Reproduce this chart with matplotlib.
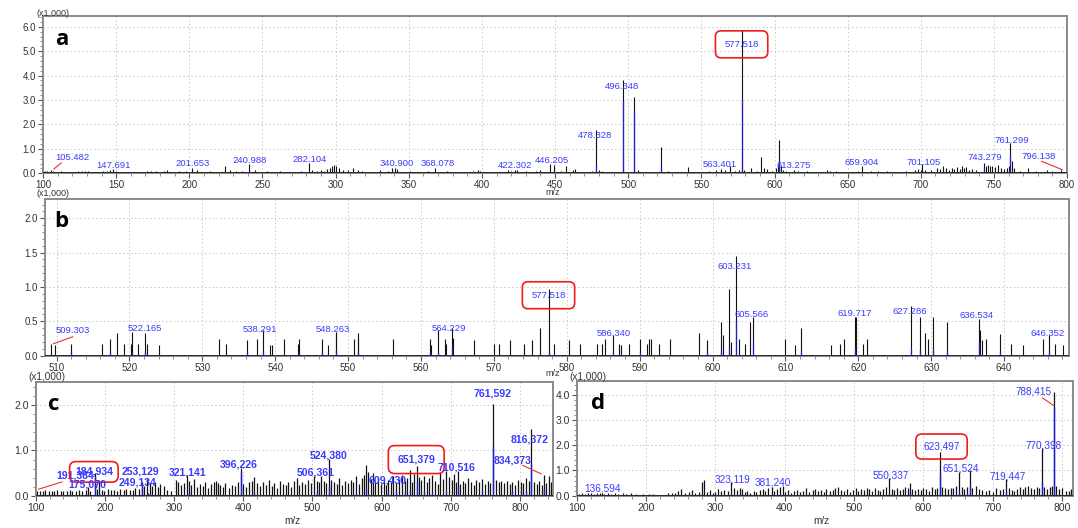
import matplotlib
matplotlib.use("Agg")
import matplotlib.pyplot as plt
from matplotlib.ticker import MultipleLocator, FormatStrFormatter

plt.rcParams['font.family'] = ['Liberation Sans', 'DejaVu Sans']

# ---------------- panel a : full scan (m/z, intensity x1000)
a_mz = [101.5, 103.0, 105.5, 107.0, 110.0, 112.0, 118.0, 124.0, 126.5, 129.0,
        131.0, 141.0, 143.5, 145.5, 147.7, 150.0, 171.0, 174.0, 177.0, 183.0,
        185.0, 193.0, 198.0, 201.7, 205.0, 214.0, 224.5, 228.0, 232.0, 236.0,
        241.0, 245.0, 253.0, 262.0, 270.0, 276.0, 282.1, 284.0, 287.0, 290.0,
        292.0, 294.0, 296.0, 297.5, 299.0, 300.5, 302.0, 305.0, 308.5, 312.0,
        315.0, 318.0, 322.0, 330.0, 336.0, 338.5, 340.9, 342.0, 351.0, 358.0,
        363.0, 368.1, 376.0, 385.0, 394.0, 397.0, 399.0, 418.0, 420.0, 422.3,
        424.0, 430.0, 437.0, 440.0, 446.2, 449.0, 454.0, 457.5, 462.0, 463.5,
        475.0, 478.3, 480.0, 482.0, 496.3, 504.2, 507.0, 522.5, 527.0, 541.0,
        555.0, 560.0, 563.4, 566.0, 569.3, 573.0, 576.0, 577.5, 579.0, 584.0,
        588.0, 591.0, 593.0, 595.0, 598.0, 601.0, 602.5, 603.4, 604.5, 606.0,
        608.0, 613.3, 616.0, 622.0, 636.0, 638.0, 642.0, 645.0, 657.0, 659.9,
        666.0, 671.0, 677.0, 682.0, 690.0, 696.0, 698.0, 700.0, 701.1, 703.0,
        707.0, 711.0, 713.0, 715.0, 717.0, 719.0, 721.0, 723.0, 725.0, 726.5,
        728.0, 729.5, 731.0, 733.0, 735.0, 738.0, 743.3, 744.5, 746.0, 747.5,
        749.0, 751.0, 753.0, 755.0, 757.0, 759.0, 760.5, 761.3, 762.3, 763.5,
        768.0, 773.0, 779.0, 786.0, 790.0, 796.1]
a_int = [0.08, 0.10, 0.12, 0.10, 0.06, 0.08, 0.06, 0.10, 0.10, 0.08,
         0.10, 0.10, 0.08, 0.12, 0.16, 0.10, 0.10, 0.08, 0.10, 0.08,
         0.12, 0.08, 0.10, 0.22, 0.12, 0.10, 0.28, 0.14, 0.08, 0.10,
         0.36, 0.12, 0.10, 0.08, 0.06, 0.10, 0.44, 0.12, 0.10, 0.14,
         0.10, 0.16, 0.22, 0.30, 0.32, 0.30, 0.20, 0.12, 0.14, 0.20,
         0.14, 0.08, 0.06, 0.14, 0.10, 0.20, 0.22, 0.16, 0.08, 0.06,
         0.08, 0.20, 0.08, 0.06, 0.10, 0.12, 0.08, 0.14, 0.10, 0.14,
         0.12, 0.10, 0.10, 0.12, 0.36, 0.34, 0.08, 0.28, 0.12, 0.16,
         0.10, 1.76, 0.12, 0.08, 3.80, 3.13, 0.12, 1.09, 0.10, 0.26,
         0.10, 0.12, 0.18, 0.12, 0.30, 0.10, 0.14, 5.87, 0.12, 0.22,
         0.08, 0.68, 0.20, 0.16, 0.10, 0.20, 0.35, 1.37, 0.30, 0.12,
         0.10, 0.14, 0.08, 0.08, 0.12, 0.10, 0.08, 0.06, 0.10, 0.28,
         0.08, 0.10, 0.08, 0.06, 0.10, 0.12, 0.16, 0.14, 0.36, 0.12,
         0.14, 0.22, 0.16, 0.30, 0.20, 0.14, 0.22, 0.16, 0.24, 0.18,
         0.28, 0.20, 0.24, 0.14, 0.18, 0.12, 0.44, 0.30, 0.34, 0.28,
         0.30, 0.24, 0.34, 0.20, 0.16, 0.22, 0.30, 1.26, 0.50, 0.20,
         0.10, 0.22, 0.10, 0.12, 0.10, 0.12]
a_blue_mz = [105.5, 147.7, 201.7, 241.0, 282.1, 340.9, 368.1, 422.3, 446.2, 478.3,
             496.3, 504.2, 522.5, 563.4, 577.5, 603.4, 613.3, 659.9, 701.1, 743.3, 761.3]
a_blue_int = [0.04, 0.06, 0.05, 0.05, 0.05, 0.06, 0.05, 0.06, 0.06, 0.40,
              3.00, 2.60, 0.30, 0.05, 3.00, 0.50, 0.05, 0.05, 0.05, 0.20, 0.80]
a_labels = [105.482, 147.691, 201.653, 240.988, 282.104, 340.900, 368.078, 422.302,
            446.205, 478.328, 496.348, 577.518, 563.401, 613.275, 659.904, 701.105,
            743.279, 761.299, 796.138]

# ---------------- panel b : zoom 508-649
b_mz = [509.2, 509.8, 512.0, 516.3, 517.3, 518.3, 519.3, 520.2, 520.4, 521.2,
        522.2, 522.4, 524.0, 532.3, 533.3, 536.1, 537.5, 538.3, 539.3, 539.5,
        541.2, 543.1, 543.3, 546.4, 547.3, 548.3, 548.4, 550.8, 551.3, 551.4,
        556.2, 561.2, 561.4, 562.3, 563.3, 563.4, 564.3, 564.4, 567.3, 570.0,
        570.7, 572.2, 574.1, 575.2, 576.3, 577.5, 578.3, 580.3, 581.8, 584.2,
        584.8, 585.3, 586.3, 587.2, 587.4, 588.5, 590.1, 591.0, 591.3, 591.6,
        592.6, 594.2, 598.1, 599.3, 601.2, 601.5, 602.2, 602.5, 603.2, 603.6,
        604.4, 605.1, 605.5, 610.0, 611.3, 612.2, 616.3, 617.5, 618.1, 619.5,
        619.7, 620.6, 621.2, 627.2, 628.4, 629.2, 629.5, 630.2, 632.2, 636.5,
        636.7, 637.0, 637.5, 639.5, 641.0, 642.6, 645.3, 646.2, 647.0, 648.1]
b_int = [0.17, 0.16, 0.17, 0.17, 0.24, 0.33, 0.17, 0.17, 0.35, 0.17,
         0.33, 0.17, 0.15, 0.25, 0.17, 0.23, 0.24, 0.37, 0.16, 0.15,
         0.25, 0.17, 0.25, 0.24, 0.15, 0.34, 0.33, 0.24, 0.33, 0.24,
         0.25, 0.25, 0.16, 0.37, 0.24, 0.17, 0.40, 0.26, 0.23, 0.17,
         0.17, 0.23, 0.17, 0.23, 0.40, 0.97, 0.17, 0.23, 0.17, 0.17,
         0.17, 0.25, 0.30, 0.17, 0.16, 0.17, 0.25, 0.17, 0.24, 0.24,
         0.17, 0.25, 0.33, 0.23, 0.49, 0.30, 0.97, 0.20, 1.45, 0.25,
         0.17, 0.49, 0.57, 0.25, 0.16, 0.40, 0.15, 0.17, 0.24, 0.57,
         0.57, 0.17, 0.24, 0.72, 0.56, 0.33, 0.25, 0.57, 0.49, 0.54,
         0.37, 0.23, 0.24, 0.32, 0.17, 0.15, 0.25, 0.30, 0.17, 0.16]
b_blue_mz = [509.3, 512.0, 517.3, 520.4, 522.2, 536.1, 538.3, 543.3, 546.4, 548.3,
             551.3, 561.2, 562.3, 564.3, 574.1, 576.3, 577.5, 586.3, 590.1, 599.3,
             601.2, 602.2, 603.2, 605.5, 612.2, 619.5, 627.2, 628.4, 630.2, 632.2,
             636.5, 639.5, 646.2]
b_blue_int = [0.04, 0.06, 0.05, 0.05, 0.06, 0.06, 0.07, 0.05, 0.06, 0.08,
              0.06, 0.06, 0.06, 0.12, 0.04, 0.04, 0.05, 0.05, 0.06, 0.05,
              0.10, 0.12, 0.50, 0.20, 0.07, 0.10, 0.10, 0.08, 0.10, 0.08,
              0.20, 0.06, 0.08]
b_labels = [509.303, 522.165, 538.291, 548.263, 564.229, 577.518, 586.340,
            603.231, 605.566, 619.717, 627.286, 636.534, 646.352]

# ---------------- panel c : MS/MS
c_mz = [102, 106, 110, 114, 119, 123, 127, 131, 136, 140,
        145, 149, 153, 158, 163, 167, 172, 175.1, 179, 184.9,
        188, 191.4, 195, 199, 204, 208, 213, 218, 222, 227,
        231, 236, 240, 244, 249.1, 253.1, 257, 261, 265, 268,
        272, 276, 280, 285, 290, 296, 303, 306, 310, 314,
        318, 321.1, 325, 329, 333, 337, 341, 345, 349, 353,
        357, 360, 363, 366, 370, 374, 379, 383, 388, 392,
        396.2, 400, 404, 408, 412, 416, 420, 424, 428, 433,
        437, 441, 445, 449, 453, 457, 461, 465, 469, 473,
        477, 481, 485, 489, 494, 498, 502, 506.4, 510, 513,
        517, 520, 524.4, 527, 531, 535, 539, 543, 547, 551,
        555, 559, 563, 567, 571, 575, 577.6, 580, 584, 588,
        591, 595, 599, 603, 606, 609.4, 613, 617, 621, 625,
        629, 633, 637, 641, 644, 647, 651.4, 654, 657, 661,
        665, 669, 673, 677, 681, 685, 689, 693, 697, 701,
        705, 708, 710.5, 713, 717, 721, 725, 729, 733, 737,
        741, 745, 749, 753, 757, 761.6, 765, 769, 773, 777,
        781, 785, 789, 793, 797, 801, 805, 809, 813, 816.4,
        820, 824, 828, 832, 834.4, 838, 842, 845]
c_int = [0.12, 0.10, 0.12, 0.13, 0.10, 0.12, 0.11, 0.13, 0.12, 0.10,
         0.12, 0.13, 0.10, 0.12, 0.14, 0.12, 0.13, 0.20, 0.12, 0.50,
         0.16, 0.32, 0.14, 0.12, 0.15, 0.13, 0.14, 0.12, 0.16, 0.13,
         0.15, 0.14, 0.13, 0.18, 0.16, 0.30, 0.22, 0.38, 0.28, 0.22,
         0.30, 0.20, 0.26, 0.22, 0.14, 0.12, 0.36, 0.30, 0.24, 0.28,
         0.46, 0.32, 0.24, 0.38, 0.20, 0.26, 0.22, 0.30, 0.18, 0.26,
         0.30, 0.34, 0.28, 0.24, 0.20, 0.28, 0.18, 0.24, 0.22, 0.30,
         0.62, 0.26, 0.20, 0.30, 0.34, 0.42, 0.28, 0.22, 0.30, 0.24,
         0.36, 0.22, 0.28, 0.18, 0.32, 0.26, 0.24, 0.30, 0.20, 0.34,
         0.40, 0.24, 0.30, 0.26, 0.36, 0.28, 0.45, 0.32, 0.30, 0.45,
         0.34, 0.28, 0.81, 0.36, 0.30, 0.26, 0.40, 0.24, 0.32, 0.28,
         0.36, 0.30, 0.44, 0.26, 0.40, 0.46, 0.68, 0.52, 0.38, 0.50,
         0.30, 0.42, 0.26, 0.34, 0.24, 0.35, 0.30, 0.44, 0.28, 0.38,
         0.46, 0.34, 0.40, 0.56, 0.30, 0.48, 0.65, 0.42, 0.36, 0.44,
         0.30, 0.40, 0.46, 0.34, 0.26, 0.50, 0.38, 0.55, 0.42, 0.36,
         0.48, 0.30, 0.55, 0.26, 0.34, 0.28, 0.40, 0.30, 0.24, 0.36,
         0.30, 0.38, 0.26, 0.34, 0.28, 2.03, 0.36, 0.30, 0.34, 0.28,
         0.32, 0.26, 0.30, 0.24, 0.36, 0.30, 0.28, 0.40, 0.34, 1.47,
         0.30, 0.26, 0.32, 0.24, 0.46, 0.28, 0.45, 0.30]
c_blue_mz = [175.1, 184.9, 191.4, 253.1, 262, 321.1, 396.2, 416, 506.4, 524.4,
             563, 577.6, 609.4, 621, 633, 641, 651.4, 661, 673, 693,
             710.5, 745, 761.6, 789, 801, 809, 816.4, 834.4]
c_blue_int = [0.05, 0.45, 0.08, 0.22, 0.06, 0.08, 0.50, 0.06, 0.08, 0.20,
              0.06, 0.15, 0.08, 0.10, 0.12, 0.10, 0.30, 0.10, 0.08, 0.12,
              0.20, 0.10, 1.10, 0.10, 0.12, 0.10, 0.70, 0.15]
c_labels = [191.384, 184.934, 175.070, 253.129, 249.134, 321.141, 396.226, 506.361,
            524.380, 609.430, 651.379, 710.516, 761.592, 816.372, 834.373]

# ---------------- panel d : MS/MS
d_mz = [103, 107, 112, 116, 121, 125, 129, 133, 136.6, 140,
        145, 150, 155, 160, 166, 171, 178, 185, 196, 204,
        210, 232, 237, 241, 246, 250, 256, 262, 266, 271,
        276, 280, 284, 288, 292, 296, 300, 304, 308, 313,
        318, 323.1, 327, 331, 335, 338, 342, 346, 350, 355,
        359, 364, 368, 372, 376, 381.2, 385, 389, 393, 397,
        401, 405, 409, 413, 418, 422, 426, 431, 435, 440,
        444, 448, 452, 456, 460, 465, 469, 473, 477, 481,
        485, 489, 494, 498, 502, 506, 510, 514, 518, 522,
        526, 530, 534, 538, 542, 546, 550.3, 554, 558, 562,
        566, 570, 574, 578, 580.5, 584, 588, 592, 596, 600,
        604, 608, 612, 616, 619, 623.5, 627, 631, 635, 639,
        643, 647, 651.5, 655, 659, 663, 666.5, 670, 675, 680,
        685, 690, 695, 700, 705, 710, 714, 719.4, 723, 727,
        731, 735, 739, 743, 747, 751, 755, 759, 763, 767,
        770.4, 774, 778, 782, 785, 788.4, 791, 795, 800, 806,
        810, 813]
d_int = [0.08, 0.10, 0.08, 0.09, 0.10, 0.08, 0.09, 0.10, 0.10, 0.08,
         0.09, 0.08, 0.10, 0.08, 0.09, 0.07, 0.09, 0.08, 0.07, 0.08,
         0.06, 0.10, 0.12, 0.09, 0.18, 0.26, 0.12, 0.14, 0.24, 0.10,
         0.16, 0.55, 0.62, 0.14, 0.22, 0.12, 0.16, 0.26, 0.20, 0.24,
         0.18, 0.55, 0.30, 0.22, 0.32, 0.28, 0.16, 0.20, 0.12, 0.18,
         0.14, 0.22, 0.26, 0.18, 0.30, 0.36, 0.20, 0.28, 0.34, 0.38,
         0.16, 0.22, 0.12, 0.18, 0.24, 0.14, 0.20, 0.30, 0.16, 0.22,
         0.26, 0.18, 0.22, 0.14, 0.28, 0.20, 0.24, 0.30, 0.36, 0.22,
         0.18, 0.26, 0.16, 0.24, 0.30, 0.20, 0.28, 0.22, 0.32, 0.26,
         0.18, 0.30, 0.24, 0.20, 0.28, 0.34, 0.70, 0.26, 0.22, 0.30,
         0.24, 0.28, 0.34, 0.30, 0.52, 0.26, 0.22, 0.28, 0.24, 0.30,
         0.26, 0.20, 0.34, 0.28, 0.30, 1.72, 0.36, 0.30, 0.26, 0.32,
         0.30, 0.40, 0.95, 0.34, 0.28, 0.36, 1.00, 0.30, 0.38, 0.26,
         0.22, 0.18, 0.24, 0.16, 0.30, 0.24, 0.28, 0.65, 0.30, 0.24,
         0.20, 0.28, 0.34, 0.26, 0.36, 0.40, 0.30, 0.26, 0.34, 0.30,
         1.88, 0.34, 0.28, 0.36, 0.40, 4.10, 0.38, 0.26, 0.30, 0.18,
         0.20, 0.26]
d_blue_mz = [136.6, 280, 323.1, 338, 381.2, 397, 465, 522, 550.3, 580.5,
             600, 623.5, 639, 651.5, 663, 666.5, 719.4, 751, 770.4, 788.4]
d_blue_int = [0.04, 0.06, 0.08, 0.06, 0.08, 0.06, 0.06, 0.08, 0.10, 0.15,
              0.08, 0.90, 0.08, 0.15, 0.10, 0.40, 0.15, 0.10, 0.50, 3.50]
d_labels = [136.594, 323.119, 381.240, 550.337, 623.497, 651.524, 719.447,
            770.398, 788.415]

# ---------------- layout / style
LBL = '#3a3aff'
BLUE = '#1e1ed2'

fig = plt.figure(figsize=(10.78, 5.28), dpi=100)
ax_a = fig.add_axes([0.0399, 0.6718, 0.950, 0.297])
ax_b = fig.add_axes([0.0416, 0.3263, 0.950, 0.2968])
ax_c = fig.add_axes([0.0332, 0.0606, 0.480, 0.2165])
ax_d = fig.add_axes([0.535, 0.0612, 0.460, 0.2172])


def spectrum(ax, mz, inten, bmz, bint, xlim, ylim, xmaj, xmin, ymaj, ymin, tsize, lw):
    ax.vlines(mz, 0, inten, color='#111111', lw=lw, zorder=2)
    ax.vlines(bmz, 0, bint, color=BLUE, lw=lw + 0.1, zorder=3)
    ax.axhline(0, color='#222222', lw=1.3, zorder=4)
    ax.set_xlim(*xlim)
    ax.set_ylim(*ylim)
    ax.xaxis.set_major_locator(MultipleLocator(xmaj))
    ax.xaxis.set_minor_locator(MultipleLocator(xmin))
    ax.yaxis.set_major_locator(MultipleLocator(ymaj))
    ax.yaxis.set_minor_locator(MultipleLocator(ymin))
    ax.yaxis.set_major_formatter(FormatStrFormatter('%.1f'))
    ax.tick_params(which='major', direction='out', length=3.5, width=0.8,
                   color='#555555', labelsize=tsize, labelcolor='#333333', pad=1.5)
    ax.tick_params(which='minor', direction='out', length=2, width=0.6, color='#777777')
    ax.grid(True, which='major', ls=(0, (1.5, 2.5)), color='#c8c8c8', lw=0.7)
    for s in ax.spines.values():
        s.set_color('#8a8a8a')
        s.set_linewidth(1.4)


def label(ax, txt, x, y, size, bold=False, box=False, pad=0.6):
    kw = dict(ha='center', va='center', color=LBL, fontsize=size, zorder=6,
              fontweight='bold' if bold else 'normal')
    if box:
        kw['bbox'] = dict(boxstyle='round,pad=%s,rounding_size=0.6' % pad,
                          fc='none', ec='#ee1c1c', lw=1.2)
    ax.text(x, y, txt, **kw)


def leader(ax, start, end):
    ax.annotate('', xy=end, xytext=start,
                arrowprops=dict(arrowstyle='-', color='#e83030', lw=0.8), zorder=5)


spectrum(ax_a, a_mz, a_int, a_blue_mz, a_blue_int, (100, 800), (0, 6.42),
         50, 10, 1.0, 0.2, 7.0, 0.8)
spectrum(ax_b, b_mz, b_int, b_blue_mz, b_blue_int, (508.4, 648.9), (0, 2.28),
         10, 2, 0.5, 0.1, 7.0, 0.8)
spectrum(ax_c, c_mz, c_int, c_blue_mz, c_blue_int, (100, 848), (0, 2.51),
         100, 20, 1.0, 0.2, 7.5, 0.9)
spectrum(ax_d, d_mz, d_int, d_blue_mz, d_blue_int, (100, 815), (0, 4.55),
         100, 20, 1.0, 0.2, 7.5, 0.9)

# peak labels (text positions in data units)
a_pos = [(120, 0.64), (148, 0.30), (202, 0.40), (241, 0.53), (282, 0.56), (342, 0.40),
         (370, 0.40), (423, 0.33), (448, 0.53), (477.2, 1.54), (495.7, 3.56),
         (577.5, 5.28), (562.5, 0.37), (613, 0.33), (659.9, 0.44), (702, 0.44),
         (744, 0.65), (762, 1.33), (780.6, 0.68)]
for v, (x, y) in zip(a_labels, a_pos):
    label(ax_a, '%.3f' % v, x, y, 6.8, box=(v == 577.518), pad=0.95)
leader(ax_a, (114, 0.50), (105.9, 0.10))
leader(ax_a, (780.6, 0.54), (798.6, 0.10))

b_pos = [(512.3, 0.36), (522.1, 0.39), (537.9, 0.38), (547.9, 0.38), (563.8, 0.39),
         (577.5, 0.88), (586.4, 0.33), (603.0, 1.30), (605.4, 0.60), (619.5, 0.62),
         (627.1, 0.64), (636.2, 0.59), (646.0, 0.32)]
for v, (x, y) in zip(b_labels, b_pos):
    label(ax_b, '%.3f' % v, x, y, 6.8, box=(v == 577.518), pad=0.95)
leader(ax_b, (512.6, 0.29), (509.2, 0.16))

c_pos = [(157, 0.46), (184, 0.53), (174, 0.25), (251, 0.53), (247, 0.29), (319, 0.51),
         (394, 0.69), (505, 0.51), (523, 0.90), (608, 0.35), (650, 0.80), (708, 0.62),
         (760, 2.24), (814, 1.23), (789, 0.79)]
for v, (x, y) in zip(c_labels, c_pos):
    boxed = v in (184.934, 651.379)
    label(ax_c, ('%.3f' % v).replace('.', ','), x, y, 7.6, bold=True, box=boxed,
          pad=0.85 if v == 651.379 else 0.5)
leader(ax_c, (142, 0.33), (100, 0.13))
leader(ax_c, (800, 0.70), (834.4, 0.46))

d_pos = [(137.5, 0.29), (324, 0.66), (383, 0.53), (553, 0.82), (626, 1.95), (653, 1.06),
         (722, 0.75), (773.5, 1.99), (758, 4.13)]
for v, (x, y) in zip(d_labels, d_pos):
    label(ax_d, ('%.3f' % v).replace('.', ','), x, y, 7.2, box=(v == 623.497), pad=0.75)
leader(ax_d, (768, 3.95), (791.6, 3.50))

# panel letters
for ax, ch, x, y in [(ax_a, 'a', 0.012, 0.85), (ax_b, 'b', 0.009, 0.855),
                     (ax_c, 'c', 0.023, 0.80), (ax_d, 'd', 0.028, 0.80)]:
    ax.text(x, y, ch, transform=ax.transAxes, fontsize=16, fontweight='bold',
            family=['Open Sans', 'DejaVu Sans'], va='center', ha='left', zorder=7)

# axis captions
for x, y, s in [(0.0343, 0.975, 6.5), (0.0343, 0.633, 6.5), (0.026, 0.2865, 7.2), (0.528, 0.2865, 7.2)]:
    fig.text(x, y, '(x1,000)', ha='left', va='center', fontsize=s, color='#333333')
for x, y, s in [(0.513, 0.635, 6.5), (0.513, 0.292, 6.5), (0.271, 0.014, 7.2), (0.762, 0.014, 7.2)]:
    fig.text(x, y, 'm/z', ha='center', va='center', fontsize=s, color='#333333')

fig.savefig('out.png', dpi=100)
